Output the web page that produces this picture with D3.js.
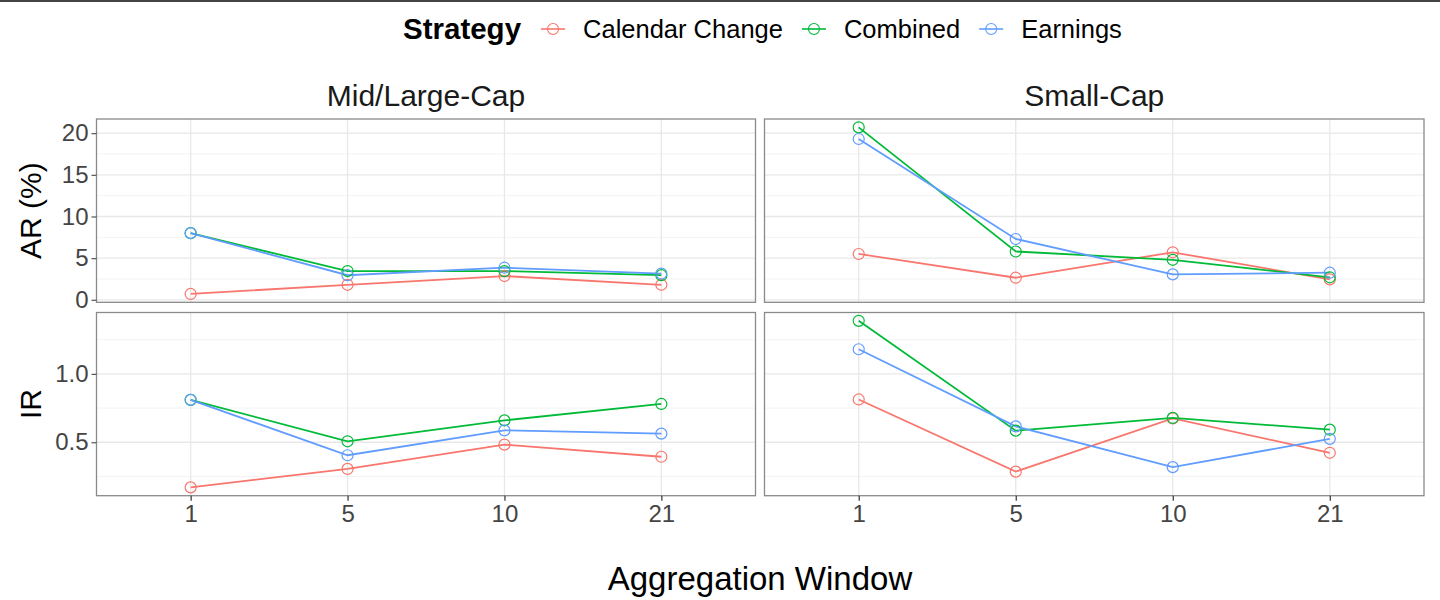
<!DOCTYPE html>
<html>
<head>
<meta charset="utf-8">
<script src="https://cdn.jsdelivr.net/npm/d3@7"></script>
<style>
  html, body { margin: 0; padding: 0; background: #fff; }
  svg { display: block; font-family: "Liberation Sans", Arial, Helvetica, sans-serif; }
</style>
</head>
<body>
<svg id="chart" width="1440" height="600"></svg>
<script>
// ---- data ----
const windows = ["1", "5", "10", "21"];
const strategies = ["Calendar Change", "Combined", "Earnings"];
const caps = ["Mid/Large-Cap", "Small-Cap"];
const metrics = ["AR (%)", "IR"];

// AR (%) by strategy, Mid/Large-Cap
const midAR_calendar = [0.7, 1.8, 2.85, 1.8];
const midAR_combined = [8.0, 3.45, 3.45, 2.95];
const midAR_earnings = [8.0, 2.95, 3.85, 3.15];
// AR (%) Small-Cap
const smallAR_calendar = [5.5, 2.65, 5.7, 2.45];
const smallAR_combined = [20.7, 5.8, 4.8, 2.7];
const smallAR_earnings = [19.3, 7.3, 3.05, 3.25];
// IR Mid/Large-Cap
const midIR_calendar = [0.17, 0.305, 0.483, 0.394];
const midIR_combined = [0.81, 0.507, 0.66, 0.78];
const midIR_earnings = [0.81, 0.405, 0.587, 0.563];
// IR Small-Cap
const smallIR_calendar = [0.813, 0.285, 0.675, 0.423];
const smallIR_combined = [1.388, 0.585, 0.678, 0.592];
const smallIR_earnings = [1.18, 0.616, 0.318, 0.525];

const arTicks = [0, 5, 10, 15, 20];
const arMinor = [2.5, 7.5, 12.5, 17.5];
const irTicks = [0.5, 1.0];
const irMinor = [0.25, 0.75, 1.25];

const colors = ["#F8766D", "#00BA38", "#619CFF"];

// panel table built from arrays
const panelData = {
  "AR (%)": {
    "Mid/Large-Cap": [midAR_calendar, midAR_combined, midAR_earnings],
    "Small-Cap": [smallAR_calendar, smallAR_combined, smallAR_earnings]
  },
  "IR": {
    "Mid/Large-Cap": [midIR_calendar, midIR_combined, midIR_earnings],
    "Small-Cap": [smallIR_calendar, smallIR_combined, smallIR_earnings]
  }
};
const rowTicks = { "AR (%)": [arTicks, arMinor, d => d3.format("d")(d)],
                   "IR": [irTicks, irMinor, d => d3.format(".1f")(d)] };

// ---- layout ----
const svg = d3.select("#chart");
const colX = [[96.5, 755.5], [764.5, 1424]];
const rowY = [[119, 302.3], [312.5, 495.7]];
const color = d3.scaleOrdinal().domain(strategies).range(colors);

svg.append("rect").attr("x", 0).attr("y", 0).attr("width", 1440).attr("height", 2)
  .attr("fill", "#444");

metrics.forEach((m, ri) => {
  const all = caps.flatMap(c => panelData[m][c].flat());
  const lo = d3.min(all), hi = d3.max(all), pad = (hi - lo) * 0.05;
  const [y0, y1] = rowY[ri];
  const y = d3.scaleLinear().domain([lo - pad, hi + pad]).range([y1, y0]);
  const [ticks, minor, fmt] = rowTicks[m];

  caps.forEach((c, ci) => {
    const [x0, x1] = colX[ci];
    const x = d3.scalePoint().domain(windows).range([x0, x1]).padding(0.6);
    const g = svg.append("g");

    // grid
    g.selectAll(".minor").data(minor).join("line")
      .attr("x1", x0).attr("x2", x1).attr("y1", d => y(d)).attr("y2", d => y(d))
      .attr("stroke", "#f3f3f3").attr("stroke-width", 1);
    g.selectAll(".major").data(ticks).join("line")
      .attr("x1", x0).attr("x2", x1).attr("y1", d => y(d)).attr("y2", d => y(d))
      .attr("stroke", "#e8e8e8").attr("stroke-width", 1.3);
    g.selectAll(".vmajor").data(windows).join("line")
      .attr("x1", d => x(d)).attr("x2", d => x(d)).attr("y1", y0).attr("y2", y1)
      .attr("stroke", "#e8e8e8").attr("stroke-width", 1.3);

    // series
    const series = panelData[m][c];
    const line = d3.line().x((d, i) => x(windows[i])).y(d => y(d));
    series.forEach((vals, si) => {
      g.append("path").datum(vals).attr("d", line)
        .attr("fill", "none").attr("stroke", color(strategies[si])).attr("stroke-width", 1.8);
    });
    series.forEach((vals, si) => {
      g.selectAll(null).data(vals).join("circle")
        .attr("cx", (d, i) => x(windows[i])).attr("cy", d => y(d)).attr("r", 5.5)
        .attr("fill", "none").attr("stroke", color(strategies[si])).attr("stroke-width", 1.2);
    });

    // border
    g.append("rect").attr("x", x0).attr("y", y0).attr("width", x1 - x0).attr("height", y1 - y0)
      .attr("fill", "none").attr("stroke", "#8a8a8a").attr("stroke-width", 1.3);

    // y axis on left column
    if (ci === 0) {
      const ax = svg.append("g").attr("transform", `translate(${x0},0)`)
        .call(d3.axisLeft(y).tickValues(ticks).tickFormat(fmt).tickSize(5).tickPadding(3));
      ax.select(".domain").remove();
      ax.selectAll(".tick line").attr("stroke", "#555").attr("stroke-width", 1.2);
      ax.selectAll(".tick text").attr("fill", "#444").attr("font-size", 24)
        .attr("font-family", "Liberation Sans, Arial, sans-serif");
    }
    // x axis on bottom row
    if (ri === 1) {
      const ax = svg.append("g").attr("transform", `translate(0,${y1})`)
        .call(d3.axisBottom(x).tickSize(5).tickPadding(4));
      ax.select(".domain").remove();
      ax.selectAll(".tick line").attr("stroke", "#333").attr("stroke-width", 1.2);
      ax.selectAll(".tick text").attr("fill", "#444").attr("font-size", 24)
        .attr("font-family", "Liberation Sans, Arial, sans-serif");
    }
    // strip titles on top row
    if (ri === 0) {
      svg.append("text").attr("x", (x0 + x1) / 2).attr("y", 106)
        .attr("text-anchor", "middle").attr("font-size", 30).attr("fill", "#1a1a1a").text(c);
    }
  });

  // row title
  svg.append("text")
    .attr("transform", `translate(41,${(y0 + y1) / 2}) rotate(-90)`)
    .attr("text-anchor", "middle").attr("font-size", 30).attr("fill", "#000").text(m);
});

// x title
svg.append("text").attr("x", 760).attr("y", 590).attr("text-anchor", "middle")
  .attr("font-size", 33).attr("fill", "#000").text("Aggregation Window");

// legend
const leg = svg.append("g");
const title = leg.append("text").attr("x", 403).attr("y", 39).attr("font-size", 29.5)
  .attr("font-weight", "bold").attr("fill", "#000").text("Strategy");
let cx = 403 + title.node().getComputedTextLength() + 32;
strategies.forEach((s, i) => {
  leg.append("line").attr("x1", cx - 12).attr("x2", cx + 12).attr("y1", 29).attr("y2", 29)
    .attr("stroke", color(s)).attr("stroke-width", 1.6);
  leg.append("circle").attr("cx", cx).attr("cy", 29).attr("r", 5.5)
    .attr("fill", "none").attr("stroke", color(s)).attr("stroke-width", 1.1);
  const t = leg.append("text").attr("x", cx + 30).attr("y", 38).attr("font-size", 25.5)
    .attr("fill", "#000").text(s);
  cx = cx + 30 + t.node().getComputedTextLength() + 31;
});
</script>
</body>
</html>
